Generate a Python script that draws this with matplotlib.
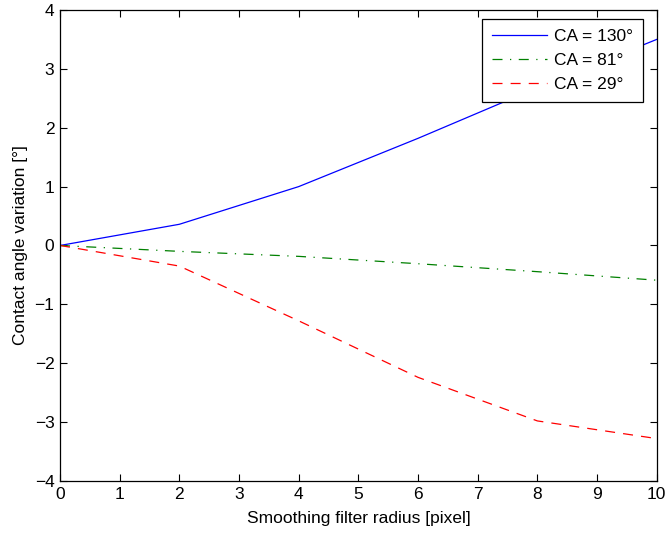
import numpy as np
import matplotlib.pyplot as plt

plt.rcParams['font.family'] = ['Liberation Sans', 'DejaVu Sans']

radius = [0, 2, 4, 6, 8, 10]
ca_130 = [0.0, 0.36, 1.0, 1.82, 2.68, 3.50]
ca_81 = [0.0, -0.10, -0.185, -0.31, -0.445, -0.59]
ca_29 = [0.0, -0.35, -1.28, -2.24, -2.98, -3.28]
labels = ['CA = 130°', 'CA = 81°', 'CA = 29°']


def main():
    fs = 12.5
    fig = plt.figure(figsize=(6.67, 5.33), dpi=100)
    ax = fig.add_axes([0.09, 0.0976, 0.8946, 0.8837])

    ax.plot(radius, ca_130, '-', color=(0, 0, 1), linewidth=0.9, label=labels[0])
    ax.plot(radius, ca_81, '-.', color=(0, 0.5, 0), linewidth=0.9, label=labels[1],
            dashes=(8, 6, 1, 6))
    ax.plot(radius, ca_29, '--', color=(1, 0, 0), linewidth=0.9, label=labels[2],
            dashes=(8, 6.5))

    ax.set_xlim(0, 10)
    ax.set_ylim(-4, 4)
    ax.set_xticks(np.arange(0, 11, 1))
    ax.set_yticks(np.arange(-4, 5, 1))
    ax.tick_params(direction='in', top=True, right=True, length=5, labelsize=fs,
                   pad=4)
    for s in ax.spines.values():
        s.set_linewidth(0.9)

    ax.set_xlabel('Smoothing filter radius [pixel]', fontsize=fs, labelpad=7)
    ax.set_ylabel('Contact angle variation [°]', fontsize=fs, labelpad=5)

    leg = ax.legend(loc='upper right', bbox_to_anchor=(0.9765, 0.98),
                    fontsize=fs, fancybox=False, framealpha=1,
                    edgecolor='black', borderaxespad=0, borderpad=0.55,
                    handlelength=3.2, handletextpad=0.4, labelspacing=0.52)
    leg.get_frame().set_linewidth(0.9)

    fig.savefig('out.png', dpi=100)
    plt.close(fig)


if __name__ == "__main__":
    main()
